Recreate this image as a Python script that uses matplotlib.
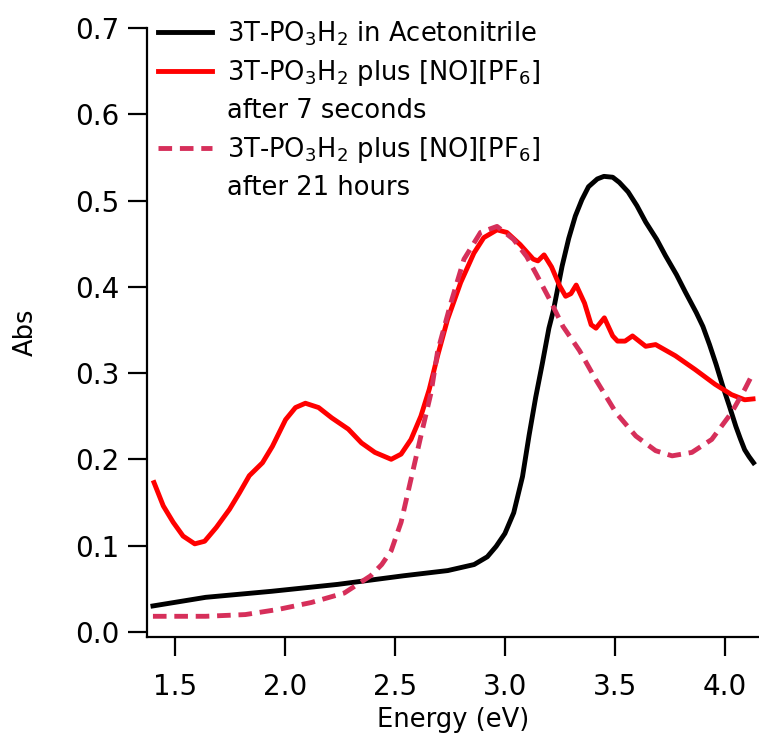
import matplotlib
matplotlib.use("Agg")
import matplotlib.pyplot as plt
from matplotlib.lines import Line2D

plt.rcParams['font.family'] = ['DejaVu Sans']
plt.rcParams['mathtext.fontset'] = 'custom'
plt.rcParams['mathtext.rm'] = 'DejaVu Sans'

# 3T-PO3H2 in acetonitrile (black)
energy_black = [1.40, 1.64, 1.94, 2.24, 2.54, 2.74, 2.86, 2.92, 2.96, 3.00, 3.04, 3.08,
                3.11, 3.14, 3.17, 3.20, 3.22, 3.26, 3.29, 3.32, 3.35, 3.38, 3.42, 3.45,
                3.49, 3.52, 3.56, 3.60, 3.64, 3.69, 3.73, 3.78, 3.82, 3.87, 3.90, 3.93,
                3.96, 3.99, 4.02, 4.05, 4.07, 4.09, 4.11, 4.13]
abs_black = [0.030, 0.040, 0.047, 0.055, 0.065, 0.071, 0.078, 0.087, 0.099, 0.114, 0.138, 0.180,
             0.228, 0.272, 0.311, 0.352, 0.372, 0.424, 0.456, 0.482, 0.501, 0.516, 0.525, 0.528,
             0.527, 0.521, 0.510, 0.494, 0.475, 0.455, 0.436, 0.414, 0.394, 0.370, 0.354, 0.333,
             0.310, 0.285, 0.262, 0.238, 0.224, 0.211, 0.203, 0.196]

# plus [NO][PF6] after 7 seconds (red)
energy_red = [1.405, 1.447, 1.492, 1.537, 1.59, 1.635, 1.688, 1.748, 1.793, 1.838, 1.898, 1.943,
              2.003, 2.048, 2.093, 2.153, 2.213, 2.288, 2.348, 2.409, 2.483, 2.528, 2.573, 2.618,
              2.656, 2.694, 2.739, 2.799, 2.859, 2.904, 2.964, 3.009, 3.069, 3.129, 3.150, 3.178,
              3.212, 3.249, 3.276, 3.300, 3.324, 3.362, 3.392, 3.414, 3.452, 3.490, 3.512, 3.546,
              3.580, 3.640, 3.685, 3.775, 3.865, 3.955, 4.030, 4.090, 4.128]
abs_red = [0.173, 0.146, 0.127, 0.111, 0.102, 0.105, 0.121, 0.142, 0.161, 0.181, 0.196, 0.215,
           0.246, 0.260, 0.265, 0.260, 0.248, 0.235, 0.219, 0.208, 0.200, 0.206, 0.223, 0.250,
           0.281, 0.320, 0.362, 0.405, 0.439, 0.457, 0.466, 0.463, 0.449, 0.432, 0.430, 0.437,
           0.423, 0.401, 0.389, 0.392, 0.402, 0.381, 0.356, 0.352, 0.364, 0.343, 0.337, 0.337,
           0.343, 0.331, 0.333, 0.320, 0.304, 0.287, 0.275, 0.269, 0.270]

# plus [NO][PF6] after 21 hours (dashed)
energy_dash = [1.40, 1.64, 1.82, 1.97, 2.12, 2.27, 2.39, 2.44, 2.483, 2.528, 2.573, 2.618,
               2.664, 2.694, 2.754, 2.814, 2.889, 2.964, 3.039, 3.099, 3.144, 3.204, 3.264, 3.339,
               3.414, 3.505, 3.595, 3.685, 3.760, 3.850, 3.940, 4.030, 4.090, 4.128]
abs_dash = [0.018, 0.018, 0.020, 0.026, 0.034, 0.045, 0.065, 0.078, 0.094, 0.127, 0.177, 0.227,
            0.277, 0.325, 0.381, 0.432, 0.463, 0.470, 0.455, 0.435, 0.414, 0.385, 0.354, 0.326,
            0.292, 0.254, 0.227, 0.210, 0.204, 0.208, 0.223, 0.254, 0.281, 0.300]

legend_labels = [
    "3T-PO$_3$H$_2$ in Acetonitrile",
    "3T-PO$_3$H$_2$ plus [NO][PF$_6$]",
    "after 7 seconds",
    "3T-PO$_3$H$_2$ plus [NO][PF$_6$]",
    "after 21 hours",
]

fig = plt.figure(figsize=(7.59, 7.39), dpi=100)
ax = fig.add_axes([147 / 759, (739 - 637) / 739, 1 - 147 / 759, (637 - 28) / 739])

line_black, = ax.plot(energy_black, abs_black, color='black', lw=3.5)
line_red, = ax.plot(energy_red, abs_red, color='#ff0000', lw=3.5)
line_dash, = ax.plot(energy_dash, abs_dash, color='#d62f5a', lw=3.5, ls=(0, (2.8, 1.6)))

ax.set_xlim(1.373, 4.155)
ax.set_ylim(-0.006, 0.7)
ax.set_xticks([1.5, 2.0, 2.5, 3.0, 3.5, 4.0])
ax.set_yticks([0.0, 0.1, 0.2, 0.3, 0.4, 0.5, 0.6, 0.7])
ax.set_xticklabels(['1.5', '2.0', '2.5', '3.0', '3.5', '4.0'])
ax.set_yticklabels(['0.0', '0.1', '0.2', '0.3', '0.4', '0.5', '0.6', '0.7'])

for side in ['top', 'right']:
    ax.spines[side].set_visible(False)
for side in ['left', 'bottom']:
    ax.spines[side].set_linewidth(1.6)
ax.spines['left'].set_bounds(-0.006, 0.7)
ax.tick_params(axis='both', direction='out', length=14, width=1.6, labelsize=20)
ax.tick_params(axis='y', pad=6)
ax.tick_params(axis='x', pad=12)

ax.set_xlabel('Energy (eV)', fontsize=18.5, labelpad=4)
ax.set_ylabel('Abs', fontsize=18.5, labelpad=26)

blank = Line2D([], [], color='none')
handles = [line_black, line_red, blank, line_dash, blank]
ax.legend(handles, legend_labels, loc='upper left', bbox_to_anchor=(-0.012, 1.044),
          frameon=False, fontsize=18.5, handlelength=2.1, handletextpad=0.6,
          labelspacing=0.4, borderaxespad=0.3)

fig.savefig('out.png', dpi=100)
